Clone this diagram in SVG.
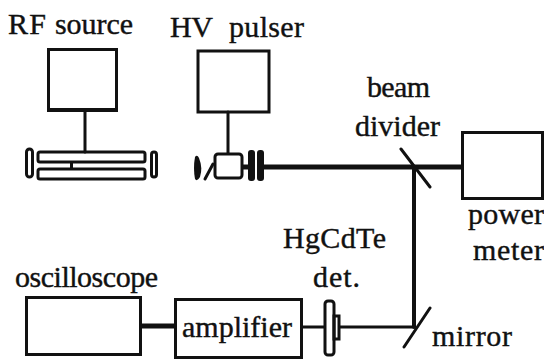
<svg xmlns="http://www.w3.org/2000/svg" width="544" height="361" viewBox="0 0 544 361">
<style>
text{font-family:"Liberation Serif","DejaVu Serif",serif;font-size:30px;fill:#111;stroke:#111;stroke-width:.4}
.b{fill:none;stroke:#111;stroke-width:3}
.t{fill:none;stroke:#111;stroke-width:3;stroke-linecap:round}
.k{fill:none;stroke:#111;stroke-width:5}
.s{fill:#111}
</style>
<rect width="544" height="361" fill="#fff"/>
<g id="connectors">
<path class="t" d="M85 111V152M228 112V153"/>
<path class="k" d="M262 167H461"/>
<path class="t" d="M414 167V327" style="stroke-width:4"/>
<path class="t" d="M340 327H414"/>
<path class="t" d="M401 149L430 187M404 347L430 308"/>
<path class="t" d="M302 327H324"/>
<path class="k" d="M141 326H175"/>
</g>
<g id="rf-source"><rect class="b" x="48.500" y="49.500" width="68" height="61"/><rect class="s" x="47" y="108" width="71" height="3"/><text x="8" y="34" textLength="38">RF</text><text x="55" y="34" textLength="78">source</text></g>
<g id="hv-pulser"><rect class="b" x="198" y="51" width="71" height="61"/><text x="170" y="37" textLength="43">HV</text><text x="229" y="37" textLength="75">pulser</text></g>
<g id="laser-tube">
<rect class="b" x="38" y="152" width="107" height="10" rx="2"/>
<rect class="b" x="38" y="169" width="107" height="10" rx="2"/>
<rect class="s" x="70" y="162" width="3" height="7"/>
<rect class="b" x="26.500" y="149" width="6" height="28" rx="3"/>
<rect class="b" x="151.500" y="152" width="5" height="25" rx="2.500"/>
</g>
<g id="pulsed-device">
<rect class="b" x="215" y="154" width="27" height="24" rx="3"/>
<path class="t" d="M205 179L213 164"/>
<path class="s" d="M195 157Q197 154 199 158Q203 168 200 177Q197 182 195 179Q193 168 195 157Z"/>
<rect class="s" x="248" y="150" width="7" height="31" rx="3"/>
<rect class="s" x="257" y="150" width="7" height="31" rx="3"/>
<path class="k" d="M242 167H250"/>
</g>
<g id="beam-divider"><text x="367" y="97" textLength="63">beam</text><text x="355" y="136" textLength="85">divider</text></g>
<g id="power-meter"><rect class="b" x="462.500" y="132.500" width="80" height="66"/><text x="468" y="224" textLength="76">power</text><text x="473" y="260" textLength="71">meter</text></g>
<g id="detector">
<rect class="b" x="325" y="301" width="9" height="54" rx="3"/>
<rect class="b" x="334" y="316" width="5" height="23"/>
<text x="283" y="248" textLength="103">HgCdTe</text><text x="313" y="287" textLength="47">det.</text>
</g>
<g id="mirror"><text x="432" y="346" textLength="80">mirror</text></g>
<g id="amplifier"><rect class="b" x="175.500" y="299.500" width="126" height="58"/><text x="182" y="337" textLength="110">amplifier</text></g>
<g id="oscilloscope"><rect class="b" x="26.500" y="297.500" width="114" height="57"/><text x="15" y="287" textLength="143">oscilloscope</text></g>
</svg>
